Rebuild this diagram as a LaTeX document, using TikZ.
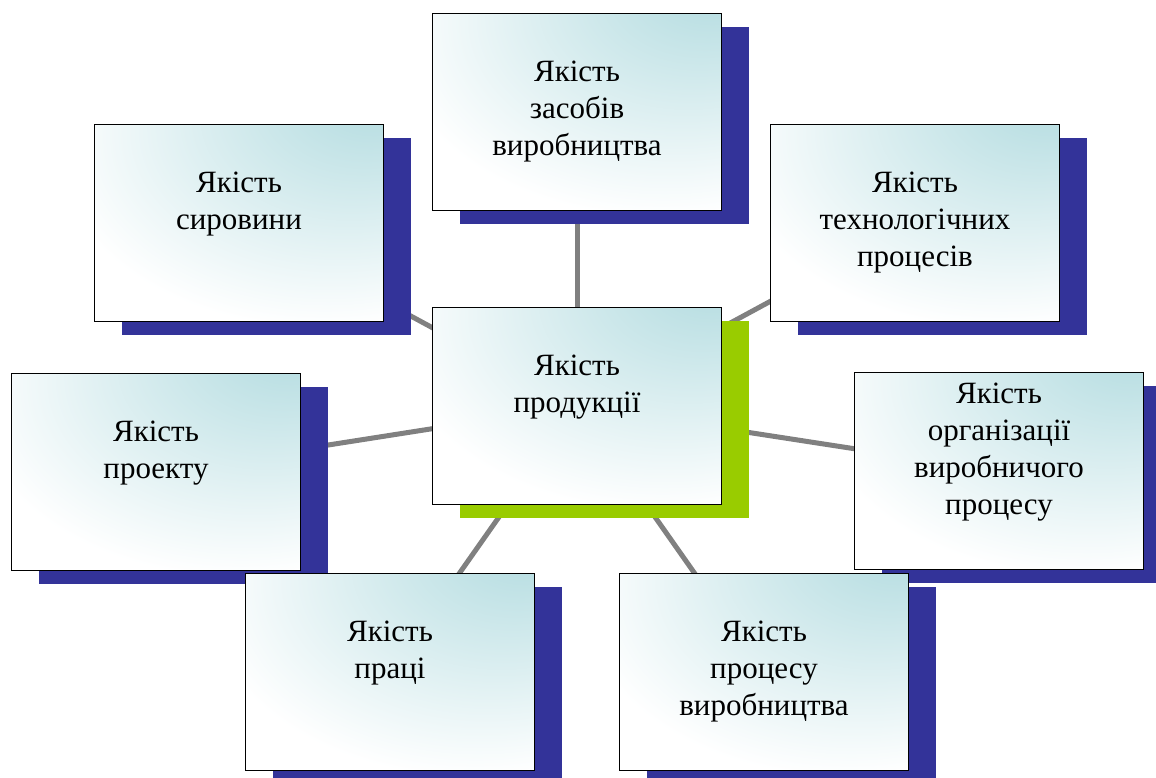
\documentclass[tikz,border=0pt]{standalone}
\usepackage{fontspec}
\setmainfont{Liberation Serif}
\usetikzlibrary{shadows,backgrounds}

\definecolor{glow}{RGB}{184,222,226}
\definecolor{shadowblue}{RGB}{51,51,153}
\definecolor{shadowgreen}{RGB}{153,204,0}
\pgfdeclareradialshading{boxglow}{\pgfpoint{26bp}{36bp}}{color(0bp)=(glow);
  color(6bp)=(glow); color(46bp)=(white); color(100bp)=(white)}

\tikzset{
  box/.style={draw=black, line width=1.5pt, shading=boxglow,
    minimum width=289pt, minimum height=197pt, inner sep=0pt, outer sep=0pt},
  factor/.style={box, drop shadow={shadow xshift=27pt, shadow yshift=-13pt,
      fill=shadowblue, opacity=1, draw=none}},
  core/.style={box, drop shadow={shadow xshift=27pt, shadow yshift=-13pt,
      fill=shadowgreen, opacity=1, draw=none}},
  caption/.style={anchor=north, align=center, inner sep=0pt,
    font=\fontsize{31pt}{37pt}\selectfont},
  link/.style={draw=gray, line width=5pt}
}

\begin{document}
\begin{tikzpicture}[x=1pt,y=1pt]
  \useasboundingbox (0,0) rectangle (1156,-777);

  \node[factor] (zas) at (577,-112) {};
  \node[factor] (syr) at (239,-223) {};
  \node[factor] (tech) at (915,-223) {};
  \node[factor] (proj) at (156,-472) {};
  \node[factor] (org) at (999,-471) {};
  \node[factor] (work) at (390,-672) {};
  \node[factor] (proc) at (764,-672) {};
  \node[core] (prod) at (577,-406) {};

  %% captions
  \node[caption] (zastxt) at ([yshift=-47pt]zas.north) {Якість\\засобів\\виробництва};
  \node[caption] (syrtxt) at ([yshift=-47pt]syr.north) {Якість\\сировини};
  \node[caption] (techtxt) at ([yshift=-47pt]tech.north) {Якість\\технологічних\\процесів};
  \node[caption] (projtxt) at ([yshift=-47pt]proj.north) {Якість\\проекту};
  \node[caption] (orgtxt) at ([yshift=-10pt]org.north) {Якість\\організації\\виробничого\\процесу};
  \node[caption] (worktxt) at ([yshift=-47pt]work.north) {Якість\\праці};
  \node[caption] (proctxt) at ([yshift=-47pt]proc.north) {Якість\\процесу\\виробництва};
  \node[caption] (prodtxt) at ([yshift=-47pt]prod.north) {Якість\\продукції};

  %% spokes behind the boxes
  \begin{scope}[on background layer]
    \foreach \n in {zas,syr,tech,proj,org,work,proc}
      \draw[link] (prod.center) -- (\n.center);
  \end{scope}

\end{tikzpicture}
\end{document}
